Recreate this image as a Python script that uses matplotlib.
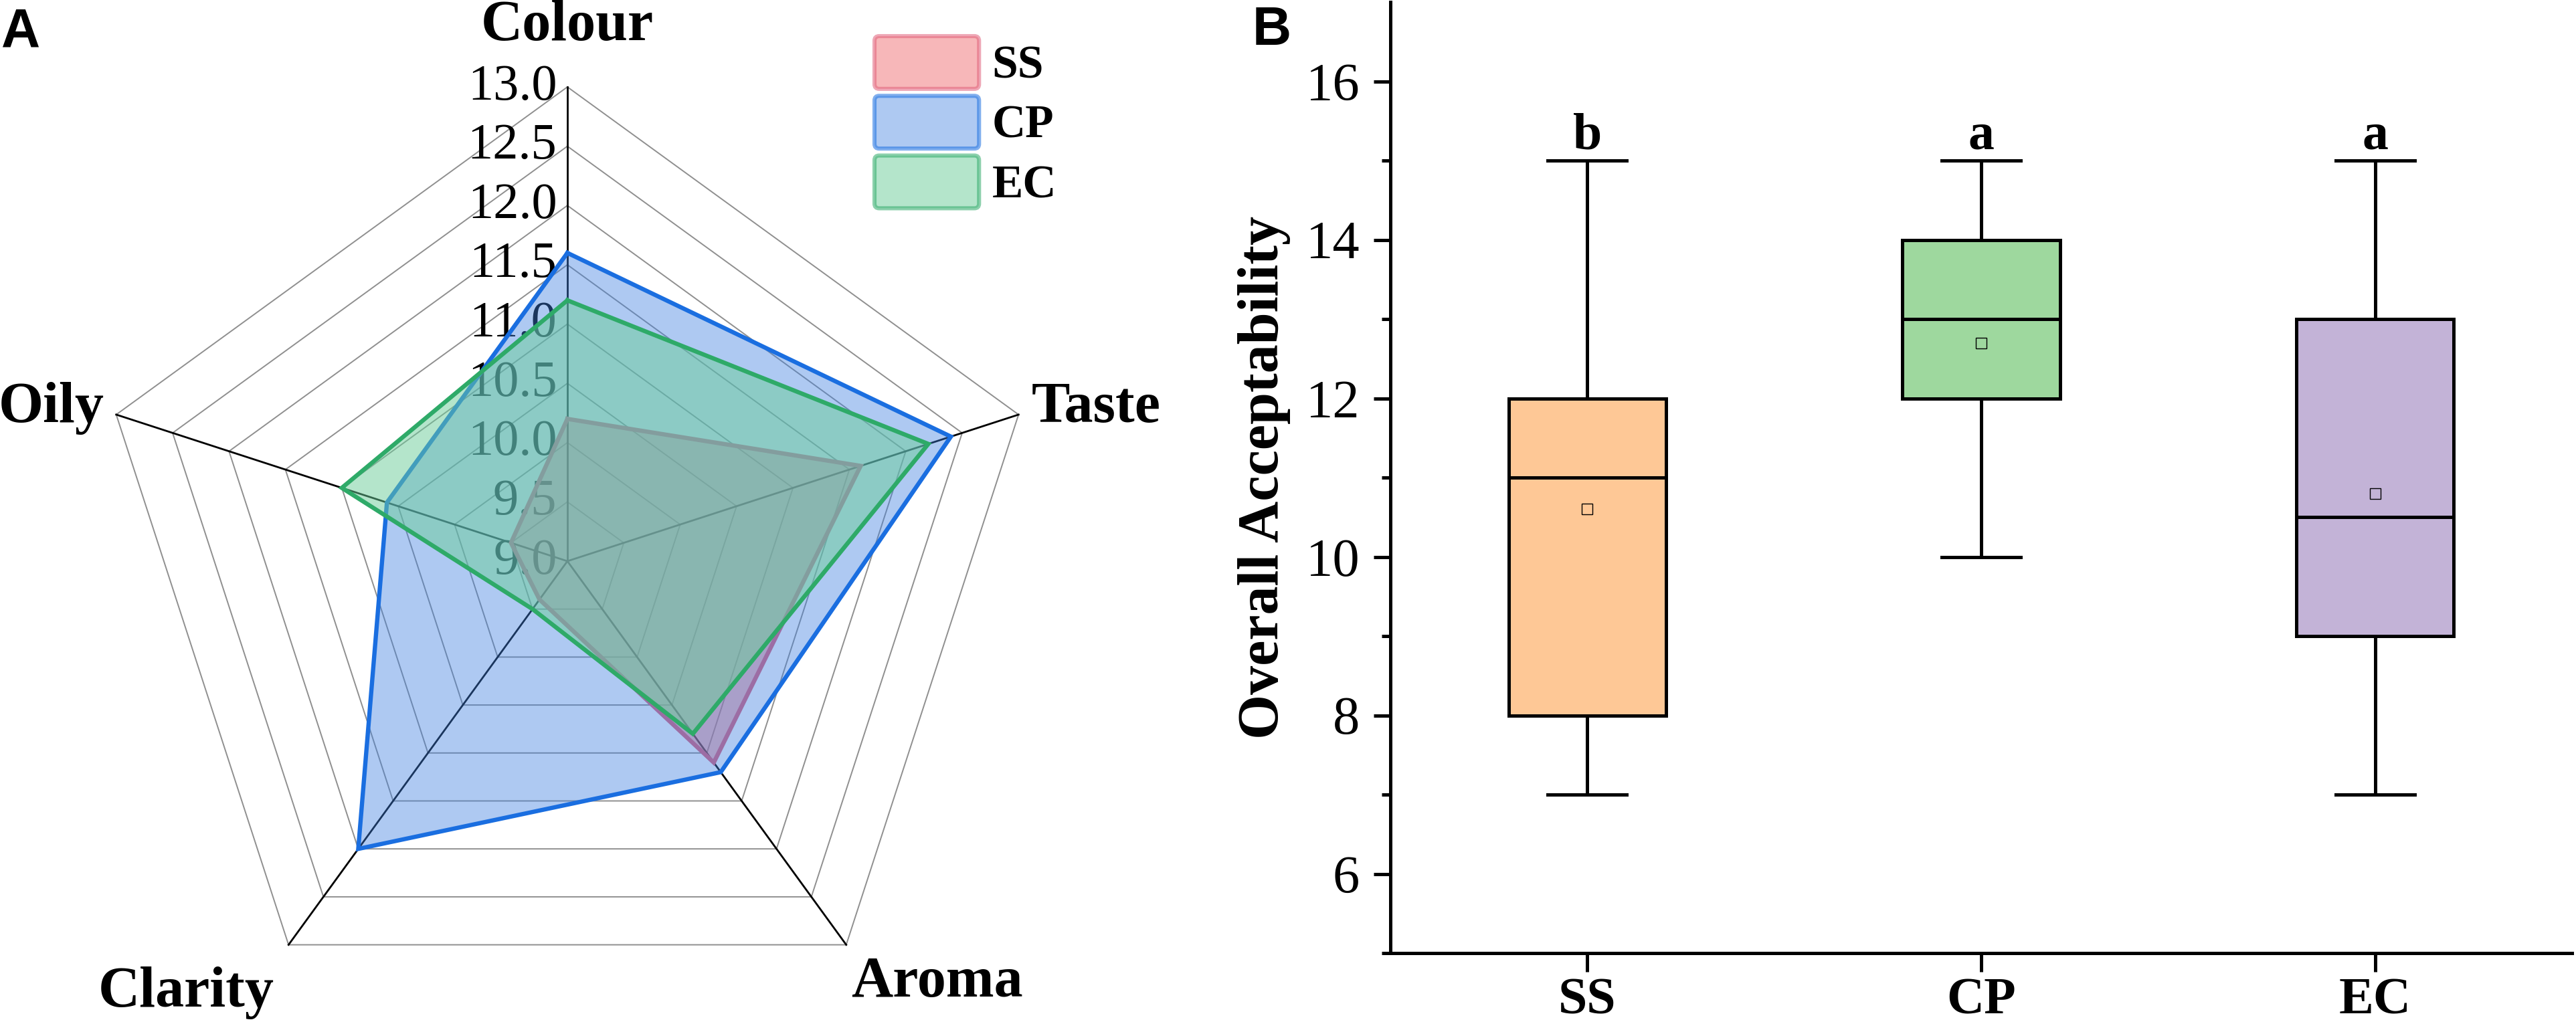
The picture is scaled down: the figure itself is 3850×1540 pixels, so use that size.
import numpy as np
import matplotlib
matplotlib.use("Agg")
import matplotlib.pyplot as plt
from matplotlib.patches import Patch, FancyBboxPatch
from matplotlib.legend_handler import HandlerPatch
from matplotlib.ticker import FixedLocator
from matplotlib.colors import to_rgb

# ---------------- data ----------------
categories = ["Colour", "Taste", "Aroma", "Clarity", "Oily"]
series_names = ["SS", "CP", "EC"]
ss_scores = [10.2, 11.6, 11.1, 9.4, 9.5]
cp_scores = [11.6, 12.4, 11.2, 12.0, 10.6]
ec_scores = [11.2, 12.2, 10.8, 9.5, 11.0]
radar_ticks = [9.0, 9.5, 10.0, 10.5, 11.0, 11.5, 12.0, 12.5, 13.0]

box_groups = ["SS", "CP", "EC"]
whisker_low = [7, 10, 7]
q1_values = [8, 12, 9]
median_values = [11, 13, 10.5]
q3_values = [12, 14, 13]
whisker_high = [15, 15, 15]
mean_values = [10.6, 12.7, 10.8]
sig_letters = ["b", "a", "a"]
box_yticks = [6, 8, 10, 12, 14, 16]
box_minor_ticks = [5, 7, 9, 11, 13, 15]

# ---------------- style ----------------
SERIF = ["Liberation Serif", "DejaVu Serif"]
SANS = ["Liberation Sans", "DejaVu Sans"]
plt.rcParams["font.family"] = SERIF

fill_colors = ["#F17175", "#3F80E0", "#6BCD99"]
fill_alphas = [0.5, 0.42, 0.5]
line_colors = ["#E0607A", "#1A6EE0", "#2EAA68"]
box_colors = ["#FEC896", "#9ED89E", "#C3B3D7"]

W, H = 3850, 1540
fig = plt.figure(figsize=(W / 200, H / 200), dpi=200)

# ---------------- panel A: radar ----------------
cx, cy, R = 848, 839, 709
axr = fig.add_axes([0, 0, 1700 / W, 1])
axr.set_xlim((0 - cx) / R, (1700 - cx) / R)
axr.set_ylim((cy - H) / R, cy / R)
axr.axis("off")

n = len(categories)
theta = np.deg2rad(90 - 360 / n * np.arange(n))
vmin, vmax = radar_ticks[0], radar_ticks[-1]


def to_xy(vals):
    r = (np.asarray(vals, dtype=float) - vmin) / (vmax - vmin)
    x = r * np.cos(theta)
    y = r * np.sin(theta)
    return np.append(x, x[0]), np.append(y, y[0])


for t in radar_ticks[1:]:
    gx, gy = to_xy([t] * n)
    axr.plot(gx, gy, color="#8f8f8f", lw=0.7, zorder=1)
for a in theta:
    axr.plot([0, np.cos(a)], [0, np.sin(a)], color="black", lw=1.0, zorder=1.5)
for t in radar_ticks:
    axr.text(-0.022, (t - vmin) / (vmax - vmin), f"{t:.1f}", ha="right",
             va="center", fontsize=27.5, zorder=2)

for i, vals in enumerate([ss_scores, cp_scores, ec_scores]):
    px, py = to_xy(vals)
    axr.fill(px, py, color=fill_colors[i], alpha=fill_alphas[i], lw=0,
             zorder=3 + i)
    axr.plot(px, py, color=line_colors[i], lw=2.3, zorder=3.5 + i,
             solid_joinstyle="miter")

label_pos = [(0.0, 1.127, "center", "center"),
             (0.979, 0.322, "left", "center"),
             (0.779, -0.889, "center", "center"),
             (-0.804, -0.911, "center", "center"),
             (-0.976, 0.322, "right", "center")]
for name, (lx, ly, ha, va) in zip(categories, label_pos):
    axr.text(lx, ly, name, ha=ha, va=va, fontsize=31, fontweight="bold")


class RoundedHandler(HandlerPatch):
    def create_artists(self, legend, orig_handle, xdescent, ydescent,
                       width, height, fontsize, trans):
        p = FancyBboxPatch((-xdescent, -ydescent), width, height,
                           boxstyle=f"round,pad=0,rounding_size={0.1 * fontsize}",
                           facecolor=orig_handle.get_facecolor(),
                           edgecolor=orig_handle.get_edgecolor(),
                           linewidth=orig_handle.get_linewidth(),
                           transform=trans)
        return [p]


handles = []
for i, name in enumerate(series_names):
    fc = (*to_rgb(fill_colors[i]), fill_alphas[i])
    ec = (*to_rgb(line_colors[i]), 0.55)
    handles.append(Patch(facecolor=fc, edgecolor=ec, linewidth=2.2, label=name))
axr.legend(handles=handles, handler_map={Patch: RoundedHandler()},
           loc="upper left", bbox_to_anchor=(1307 / W, 1 - 54 / H),
           bbox_transform=fig.transFigure, frameon=False,
           prop={"family": SERIF, "weight": "bold", "size": 25},
           handlelength=2.25, handleheight=1.37, labelspacing=0.15,
           handletextpad=0.28, borderpad=0, borderaxespad=0)

fig.text(2 / W, 1 - 10 / H, "A", family=SANS, fontweight="bold",
         fontsize=29, ha="left", va="top")

# ---------------- panel B: box plot ----------------
axb = fig.add_axes([2078 / W, (H - 1425) / H, (3844 - 2078) / W, 1422 / H])
stats = []
for i, g in enumerate(box_groups):
    stats.append(dict(label=g, whislo=whisker_low[i], q1=q1_values[i],
                      med=median_values[i], q3=q3_values[i],
                      whishi=whisker_high[i], mean=mean_values[i], fliers=[]))
positions = np.arange(1, len(box_groups) + 1)
bp = axb.bxp(stats, positions=positions, widths=0.4, capwidths=0.2,
             patch_artist=True, showmeans=True, showfliers=False,
             boxprops=dict(linewidth=1.8, edgecolor="black"),
             whiskerprops=dict(linewidth=1.8, color="black"),
             capprops=dict(linewidth=1.8, color="black"),
             medianprops=dict(linewidth=1.8, color="black"),
             meanprops=dict(marker="s", markersize=5.5, markeredgewidth=0.5,
                            markeredgecolor="black"))
for patch, mean_line, col in zip(bp["boxes"], bp["means"], box_colors):
    patch.set_facecolor(col)
    mean_line.set_markerfacecolor(col)

for x, hi, letter in zip(positions, whisker_high, sig_letters):
    axb.text(x, hi + 0.15, letter, ha="center", va="baseline", fontsize=28,
             fontweight="bold")

axb.set_xlim(0.5, len(box_groups) + 0.5)
axb.set_ylim(5, 17)
axb.set_yticks(box_yticks)
axb.yaxis.set_minor_locator(FixedLocator(box_minor_ticks))
axb.set_xticks(positions)
axb.set_xticklabels(box_groups, fontweight="bold", fontsize=28)
axb.tick_params(axis="y", which="major", direction="out", length=9,
                width=1.8, labelsize=29, pad=7.5)
axb.tick_params(axis="y", which="minor", direction="out", length=4.7,
                width=1.8)
axb.tick_params(axis="x", which="major", direction="out", length=10,
                width=1.8, pad=3)
for side in ["top", "right"]:
    axb.spines[side].set_visible(False)
for side in ["left", "bottom"]:
    axb.spines[side].set_linewidth(1.8)
axb.set_ylabel("Overall Acceptability", fontsize=31, fontweight="bold",
               labelpad=8)

fig.text(1872 / W, 1 - 8 / H, "B", family=SANS, fontweight="bold",
         fontsize=29, ha="left", va="top")

fig.savefig("out.png", dpi=200)
